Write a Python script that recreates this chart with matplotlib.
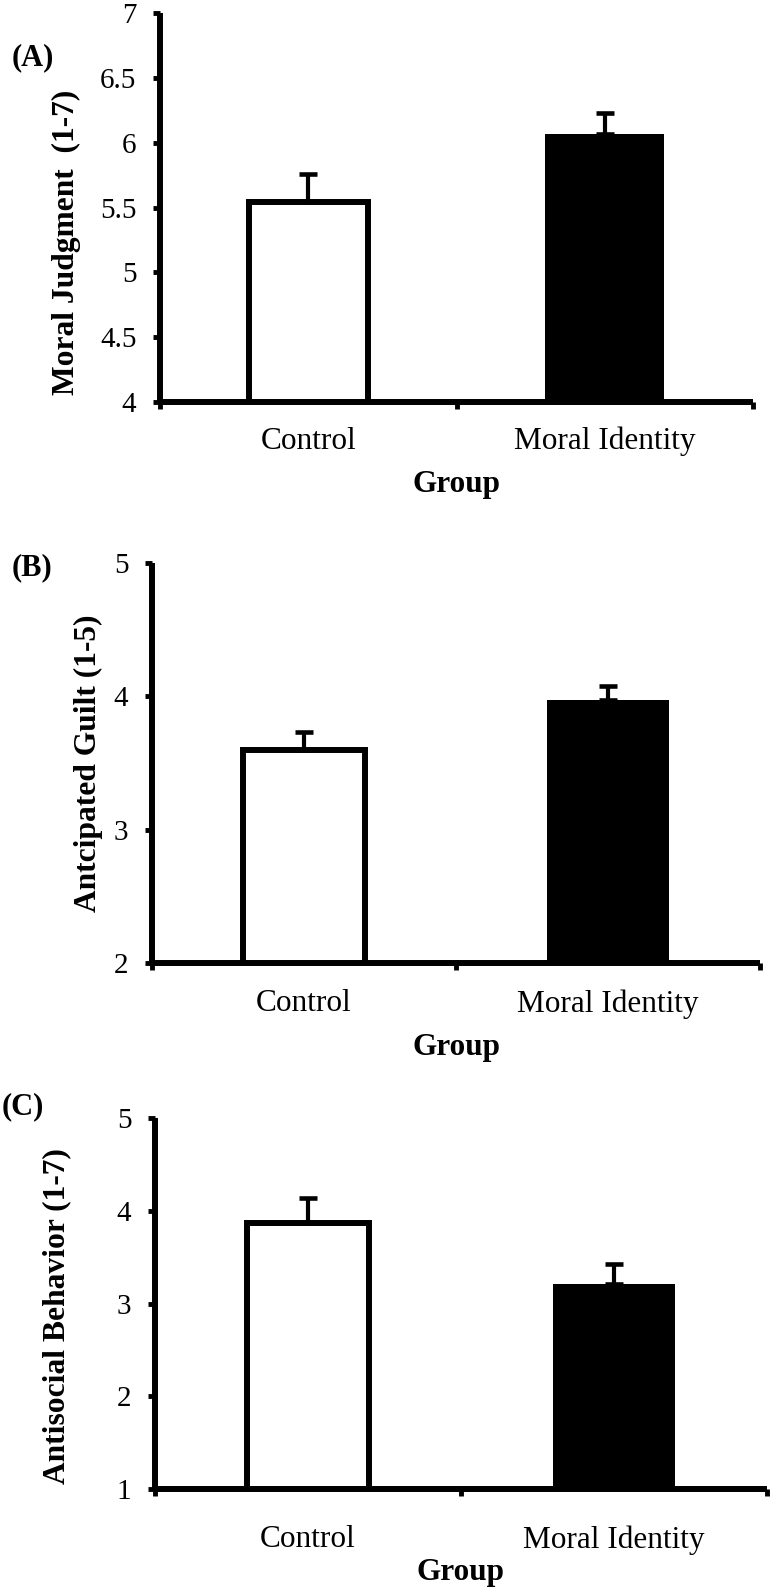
import matplotlib
matplotlib.use("Agg")
import matplotlib.pyplot as plt
import numpy as np

# ---- data ----
groups = ["Control", "Moral Identity"]
judgment_means = [5.54, 6.07]
judgment_err = [0.22, 0.16]
guilt_means = [3.60, 3.97]
guilt_err = [0.13, 0.11]
antisocial_means = [3.87, 3.21]
antisocial_err = [0.27, 0.22]

panel_letters = ["(A)", "(B)", "(C)"]
ylabels = ["Moral Judgment  (1-7)", "Antcipated Guilt (1-5)", "Antisocial Behavior (1-7)"]
yticks_a = [4, 4.5, 5, 5.5, 6, 6.5, 7]
yticks_b = [2, 3, 4, 5]
yticks_c = [1, 2, 3, 4, 5]
xlabel_text = "Group"

plt.rcParams['font.family'] = ['Liberation Serif', 'DejaVu Serif']

W, H = 770, 1591
fig = plt.figure(figsize=(W / 100, H / 100), dpi=100)

def add_ax(left, right, top, bottom):
    return fig.add_axes([left / W, 1 - bottom / H, (right - left) / W, (bottom - top) / H])

panels = [
    dict(box=(160, 753, 13, 402), means=judgment_means, err=judgment_err, ticks=yticks_a,
         ylab=ylabels[0], ylc=(-0.157, 0.41), catpad=18, grp=-0.211, letter=(12, 58)),
    dict(box=(152, 760, 563, 963), means=guilt_means, err=guilt_err, ticks=yticks_b,
         ylab=ylabels[1], ylc=(-0.105, 0.5), catpad=19, grp=-0.21, letter=(12, 568)),
    dict(box=(155, 767, 1118, 1489), means=antisocial_means, err=antisocial_err, ticks=yticks_c,
         ylab=ylabels[2], ylc=(-0.160, 0.466), catpad=26, grp=-0.226, letter=(2, 1107)),
]

LW = 4.3
for i, p in enumerate(panels):
    ax = add_ax(*p["box"])
    x = np.arange(1, len(groups) + 1)
    ax.bar(x[0], p["means"][0], width=0.4, bottom=0, color="white", edgecolor="black",
           linewidth=LW, zorder=2)
    ax.bar(x[1], p["means"][1], width=0.4, bottom=0, color="black", edgecolor="black",
           linewidth=0, zorder=2)
    ax.errorbar(x, p["means"], yerr=[[0, 0], p["err"]], fmt="none", ecolor="black",
                elinewidth=3.0, capsize=6.5, capthick=3.3, zorder=3)
    ax.set_xlim(0.5, 2.5)
    ax.set_ylim(p["ticks"][0], p["ticks"][-1])
    ax.set_yticks(p["ticks"])
    ax.set_yticklabels(["%g" % t for t in p["ticks"]])
    ax.set_xticks([0.5, 1.5, 2.5])
    ax.set_xticklabels([])
    ax.set_xticks(x, minor=True)
    ax.set_xticklabels(groups, minor=True)
    for s in ["top", "right"]:
        ax.spines[s].set_visible(False)
    for s in ["left", "bottom"]:
        ax.spines[s].set_linewidth(LW)
        ax.spines[s].set_capstyle("butt")
    ax.tick_params(axis="y", direction="out", length=5, width=3.5, labelsize=21, pad=12)
    ax.tick_params(axis="x", which="major", direction="out", length=5, width=3.5)
    ax.tick_params(axis="x", which="minor", length=0, labelsize=22.5, pad=p["catpad"])
    yl = ax.set_ylabel(p["ylab"], fontsize=22.7, fontweight="bold")
    yl.set_rotation_mode("default")
    yl.set_verticalalignment("center")
    yl.set_horizontalalignment("center")
    ax.yaxis.set_label_coords(*p["ylc"])
    ax.set_xlabel(xlabel_text, fontsize=22.5, fontweight="bold", va="center")
    ax.xaxis.set_label_coords(0.5, p["grp"])
    fig.text(p["letter"][0] / W, 1 - p["letter"][1] / H, panel_letters[i],
             fontsize=22, fontweight="bold", ha="left", va="center")

fig.savefig("out.png", dpi=100, facecolor="white")
